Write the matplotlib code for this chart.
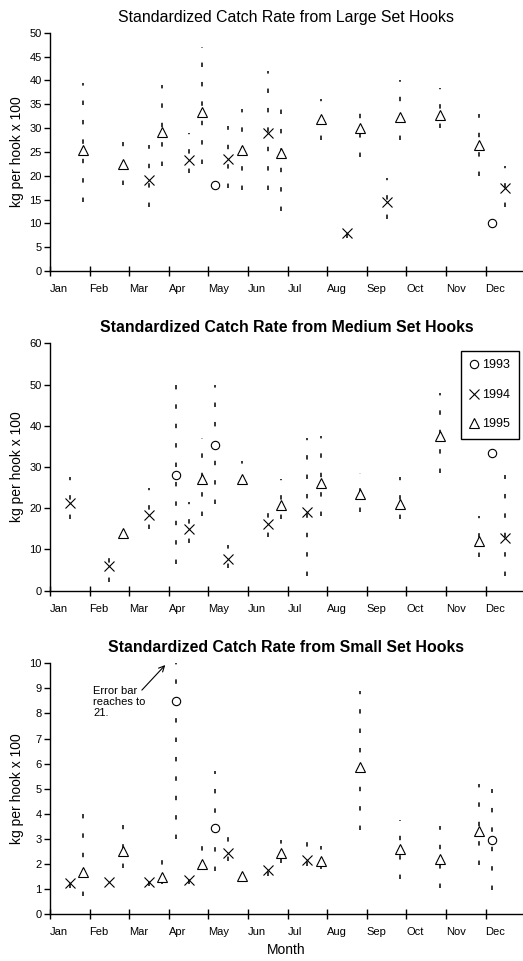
import matplotlib
matplotlib.use("Agg")
import matplotlib.pyplot as plt
from matplotlib.lines import Line2D

plt.rcParams['font.family'] = ['Liberation Sans', 'DejaVu Sans']

months = ['Jan', 'Feb', 'Mar', 'Apr', 'May', 'Jun', 'Jul', 'Aug', 'Sep', 'Oct', 'Nov', 'Dec']

# month index (0 = Jan) ; year offset inside the month
year_offset = {'1993': 0.17, '1994': 0.5, '1995': 0.84}
year_marker = {'1993': 'o', '1994': 'x', '1995': '^'}

# ---- Large set hooks ----
large_1993_m = [4, 11]
large_1993_v = [18.0, 10.1]
large_1993_lo = [18.0, 10.1]
large_1993_hi = [18.0, 10.1]

large_1994_m = [2, 3, 4, 5, 7, 8, 11]
large_1994_v = [19.1, 23.3, 23.6, 29.0, 7.9, 14.5, 17.5]
large_1994_lo = [13.5, 20.5, 17.5, 17.0, 7.0, 11.0, 13.5]
large_1994_hi = [26.5, 29.0, 30.5, 42.0, 10.0, 19.5, 22.0]

large_1995_m = [0, 1, 2, 3, 4, 5, 6, 7, 8, 9, 10]
large_1995_v = [25.4, 22.4, 29.1, 33.4, 25.4, 24.7, 31.9, 29.9, 32.3, 32.7, 26.4]
large_1995_lo = [14.5, 18.0, 22.0, 22.5, 17.0, 12.5, 27.5, 24.0, 27.5, 30.0, 20.0]
large_1995_hi = [39.5, 27.0, 39.0, 47.0, 34.0, 37.0, 36.0, 36.0, 40.0, 38.5, 33.0]

# ---- Medium set hooks ----
medium_1993_m = [3, 4, 11]
medium_1993_v = [28.1, 35.4, 33.3]
medium_1993_lo = [6.5, 21.0, 33.3]
medium_1993_hi = [50.0, 50.0, 33.3]

medium_1994_m = [0, 1, 2, 3, 4, 5, 6, 11]
medium_1994_v = [21.3, 6.1, 18.4, 15.0, 7.6, 16.2, 19.1, 12.7]
medium_1994_lo = [17.5, 2.0, 15.0, 11.5, 5.5, 13.0, 3.5, 3.5]
medium_1994_hi = [27.5, 10.5, 25.0, 21.5, 11.0, 20.5, 37.0, 28.0]

medium_1995_m = [1, 3, 4, 5, 6, 7, 8, 9, 10]
medium_1995_v = [13.9, 27.2, 27.1, 20.8, 26.2, 23.4, 21.0, 37.4, 12.1]
medium_1995_lo = [13.9, 18.0, 26.0, 17.3, 18.0, 19.0, 17.5, 28.5, 8.2]
medium_1995_hi = [13.9, 37.0, 31.5, 27.0, 37.5, 28.5, 27.5, 48.0, 18.0]

# ---- Small set hooks ----
small_1993_m = [3, 4, 11]
small_1993_v = [8.5, 3.44, 2.95]
small_1993_lo = [3.0, 1.7, 0.95]
small_1993_hi = [21.0, 5.7, 5.0]

small_1994_m = [0, 1, 2, 3, 4, 5, 6]
small_1994_v = [1.22, 1.29, 1.29, 1.36, 2.42, 1.75, 2.15]
small_1994_lo = [1.05, 1.29, 1.1, 1.2, 2.1, 1.5, 1.9]
small_1994_hi = [1.6, 1.29, 1.6, 1.6, 3.2, 2.1, 2.9]

small_1995_m = [0, 1, 2, 3, 4, 5, 6, 7, 8, 9, 10]
small_1995_v = [1.69, 2.52, 1.49, 2.0, 1.53, 2.42, 2.13, 5.85, 2.58, 2.21, 3.31]
small_1995_lo = [0.7, 1.85, 1.2, 1.75, 1.4, 2.05, 1.8, 3.35, 1.4, 1.02, 1.95]
small_1995_hi = [4.0, 3.55, 2.15, 2.7, 1.8, 2.95, 2.7, 8.9, 3.75, 3.5, 5.2]

panels = [
    dict(title='Standardized Catch Rate from Large Set Hooks', weight='normal',
         ymax=50, ystep=5,
         series={'1993': (large_1993_m, large_1993_v, large_1993_lo, large_1993_hi),
                 '1994': (large_1994_m, large_1994_v, large_1994_lo, large_1994_hi),
                 '1995': (large_1995_m, large_1995_v, large_1995_lo, large_1995_hi)}),
    dict(title='Standardized Catch Rate from Medium Set Hooks', weight='bold',
         ymax=60, ystep=10,
         series={'1993': (medium_1993_m, medium_1993_v, medium_1993_lo, medium_1993_hi),
                 '1994': (medium_1994_m, medium_1994_v, medium_1994_lo, medium_1994_hi),
                 '1995': (medium_1995_m, medium_1995_v, medium_1995_lo, medium_1995_hi)}),
    dict(title='Standardized Catch Rate from Small Set Hooks', weight='bold',
         ymax=10, ystep=1,
         series={'1993': (small_1993_m, small_1993_v, small_1993_lo, small_1993_hi),
                 '1994': (small_1994_m, small_1994_v, small_1994_lo, small_1994_hi),
                 '1995': (small_1995_m, small_1995_v, small_1995_lo, small_1995_hi)}),
]

W, H = 523, 961
fig = plt.figure(figsize=(W / 100, H / 100), dpi=100)

# axes boxes in pixels: (top, bottom)
boxes = [(32.7, 271.0), (343.3, 590.7), (663.3, 914.0)]
left_px, right_px = 50, 523
msize = {'o': 6, 'x': 6.5, '^': 7.5}

axes = []
for p, (top, bot) in zip(panels, boxes):
    ax = fig.add_axes([left_px / W, 1 - bot / H, (right_px - left_px) / W, (bot - top) / H])
    axes.append(ax)
    for yr, (m, v, lo, hi) in p['series'].items():
        x = [mm + year_offset[yr] for mm in m]
        for xi, l, h in zip(x, lo, hi):
            if h > l:
                ax.plot([xi, xi], [l, min(h, p['ymax'])], color='black', lw=1.1,
                        linestyle=(0, (2.9, 9.8)), clip_on=False, dash_capstyle='butt')
        mk = year_marker[yr]
        ax.plot(x, v, linestyle='none', marker=mk, markersize=msize[mk],
                markerfacecolor='white' if mk != 'x' else 'black',
                markeredgecolor='black', markeredgewidth=0.8, zorder=3)
    ax.set_xlim(0, (right_px - left_px) / 39.6)
    ax.set_ylim(0, p['ymax'])
    ax.set_yticks([i * p['ystep'] for i in range(int(p['ymax'] / p['ystep']) + 1)])
    ax.set_xticks(range(12))
    ax.set_xticklabels(months, ha='left')
    ax.tick_params(axis='x', direction='inout', length=7, width=1, labelsize=8, pad=6)
    ax.tick_params(axis='y', direction='out', length=4, width=1, labelsize=8, pad=2)
    ax.spines['top'].set_visible(False)
    ax.spines['right'].set_visible(False)
    ax.spines['left'].set_linewidth(1.0)
    ax.spines['bottom'].set_linewidth(1.0)
    ax.set_ylabel('kg per hook x 100', fontsize=10, labelpad=4)
    ax.set_title(p['title'], fontsize=11.4, fontweight=p['weight'], pad=8)

# legend on the medium panel
handles = [Line2D([], [], linestyle='none', marker=year_marker[y], markersize=msize[year_marker[y]],
                  markerfacecolor='white' if y != '1994' else 'black', markeredgecolor='black',
                  markeredgewidth=0.8) for y in ['1993', '1994', '1995']]
leg = axes[1].legend(handles, ['1993', '1994', '1995'], loc='upper right',
                     bbox_to_anchor=(0.9915, 0.970), borderaxespad=0, fontsize=9,
                     labelspacing=1.4, handlelength=0.7, handletextpad=0.3,
                     borderpad=0.7, fancybox=False, framealpha=1)
leg.get_frame().set_edgecolor('black')
leg.get_frame().set_linewidth(1.0)

# annotation on the small panel
axes[2].text(1.09, 9.1, 'Error bar\nreaches to\n21.', fontsize=8, va='top', ha='left',
             linespacing=1.15)
axes[2].annotate('', xy=(2.91, 9.93), xytext=(2.32, 8.93),
                 arrowprops=dict(arrowstyle='->', lw=0.8, color='black',
                                 shrinkA=0, shrinkB=0))
axes[2].set_xlabel('Month', fontsize=10, labelpad=4)

fig.savefig('out.png', dpi=100)
